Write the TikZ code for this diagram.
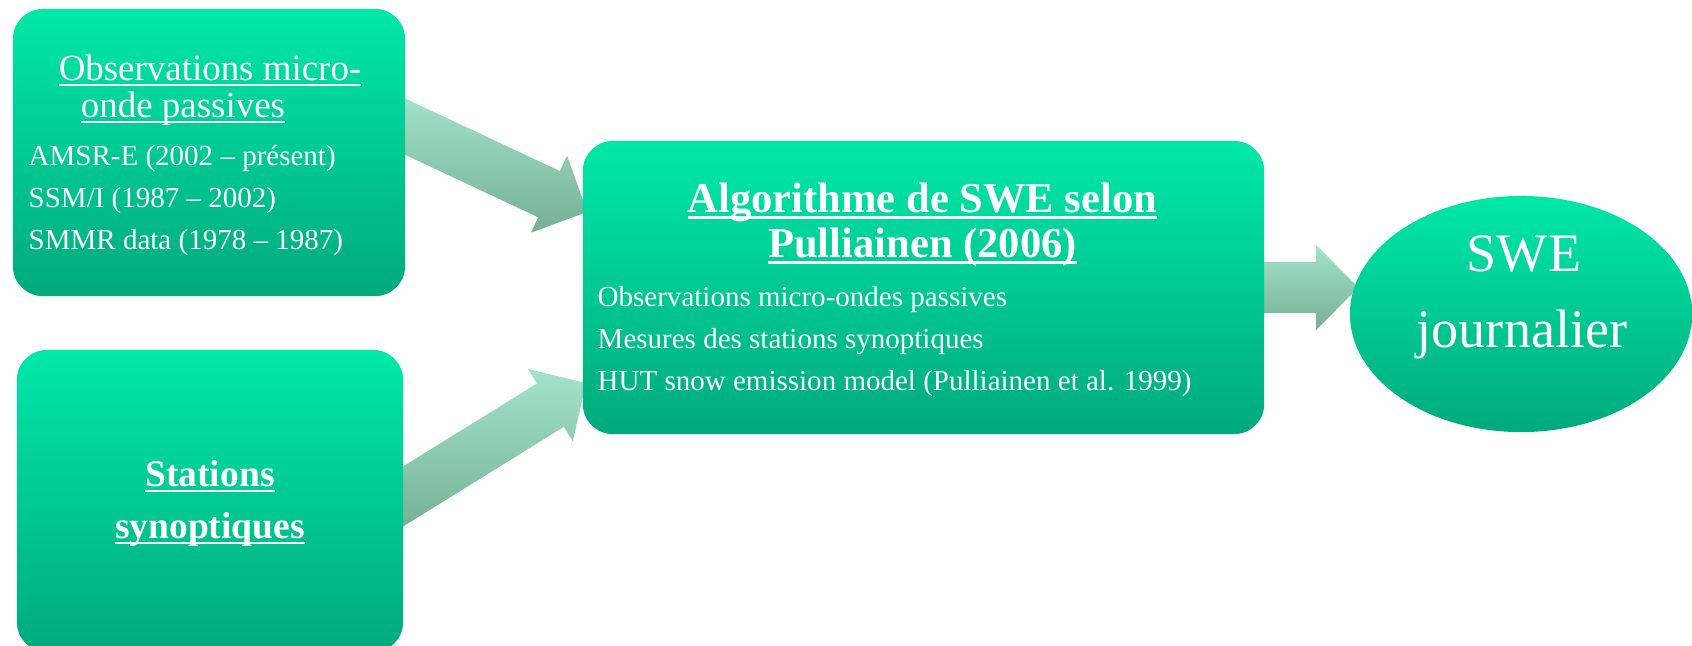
\documentclass[tikz,border=0pt]{standalone}
\usepackage{fontspec}
\setmainfont{Liberation Serif}
\usetikzlibrary{calc,backgrounds,shapes.geometric}

\definecolor{boxtop}{RGB}{0,232,168}
\definecolor{boxbottom}{RGB}{0,170,124}
\definecolor{arrowtop}{RGB}{162,228,202}
\definecolor{arrowbottom}{RGB}{118,176,148}

\newsavebox\ulbox
\newcommand\ulin[1]{\sbox\ulbox{#1}\rlap{\rule[-0.16em]{\wd\ulbox}{0.055em}}\usebox\ulbox}

% wide block arrow from #1 (its tail starts under the box) to the tip #2
\newcommand\fatarrow[2]{%
  \coordinate (fa-base) at ($(#2)!0.42cm!(#1)$);
  \coordinate (fa-tail) at ($(#1)!-0.3cm!(#2)$);
  \shade[arrowshade] ($(fa-tail)!0.255cm!90:(#2)$) -- ($(fa-base)!0.255cm!90:(#2)$)
    -- ($(fa-base)!0.425cm!90:(#2)$) -- (#2)
    -- ($(fa-base)!0.425cm!-90:(#2)$) -- ($(fa-base)!0.255cm!-90:(#2)$)
    -- ($(fa-tail)!0.255cm!-90:(#2)$) -- cycle;}

\begin{document}
\begin{tikzpicture}[x=0.01cm, y=-0.01cm,
    greenbox/.style={rounded corners=0.3cm, top color=boxtop, bottom color=boxbottom, inner sep=0pt},
    greenoval/.style={ellipse, top color=boxtop, bottom color=boxbottom, inner sep=0pt},
    arrowshade/.style={top color=arrowtop, bottom color=arrowbottom},
    bodytext/.style={text=white, inner sep=0pt, anchor=base west, font=\fontsize{8.25}{12}\selectfont},
    headtext/.style={text=white, inner sep=0pt, anchor=base, font=\fontsize{#1}{18}\selectfont},
    boldtext/.style={text=white, inner sep=0pt, anchor=base, font=\fontsize{#1}{14}\selectfont\bfseries}]
  \useasboundingbox (0,0) rectangle (1692,645);

  % boxes
  \node[greenbox, minimum width=3.92cm, minimum height=2.87cm] (obs) at (209,152.5) {};
  \node[greenbox, minimum width=3.86cm, minimum height=3.02cm] (sta) at (210,501) {};
  \node[greenbox, minimum width=6.81cm, minimum height=2.93cm] (alg) at (923.5,287.5) {};
  \node[greenoval, minimum width=3.42cm, minimum height=2.36cm] (swe) at (1521,314) {};

  % texts
  \node[headtext=10.5] (obs-h1) at (210,80) {\ulin{Observations micro-}};
  \node[headtext=10.5] (obs-h2) at (183,117) {\ulin{onde passives}};
  \foreach \txt [count=\i] in {AMSR-E (2002 – présent), SSM/I (1987 – 2002), SMMR data (1978 – 1987)}
    \node[bodytext] (obs-l\i) at (28,{123+42*\i}) {\txt};

  \node[boldtext=12.1] (alg-h1) at (922.5,212) {\ulin{Algorithme de SWE selon}};
  \node[boldtext=12.1] (alg-h2) at (922.5,257) {\ulin{Pulliainen (2006)}};
  \foreach \txt [count=\i] in {Observations micro-ondes passives, Mesures des stations synoptiques, HUT snow emission model (Pulliainen et al. 1999)}
    \node[bodytext] (alg-l\i) at (597,{264+42*\i}) {\txt};

  \node[boldtext=10.67] (sta-h1) at (210,486) {\ulin{Stations}};
  \node[boldtext=10.67] (sta-h2) at (210,538) {\ulin{synoptiques}};

  \node[headtext=15.4] (swe-t1) at (1524,271) {SWE};
  \node[headtext=15.4] (swe-t2) at (1522,347) {journalier};

  % arrows
  \coordinate (obs-out) at ($(obs.east)+(0,-25.5)$);
  \coordinate (alg-in1) at ($(alg.west)+(5,-75.5)$);
  \coordinate (sta-out) at ($(sta.east)+(0,-5)$);
  \coordinate (alg-in2) at ($(alg.west)+(4,95.5)$);
  \coordinate (swe-in) at ($(swe.west)+(9,-26.5)$);
  \begin{scope}[on background layer]
    \fatarrow{obs-out}{alg-in1}
    \fatarrow{sta-out}{alg-in2}
    \fatarrow{alg.east}{swe-in}
  \end{scope}
\end{tikzpicture}
\end{document}
